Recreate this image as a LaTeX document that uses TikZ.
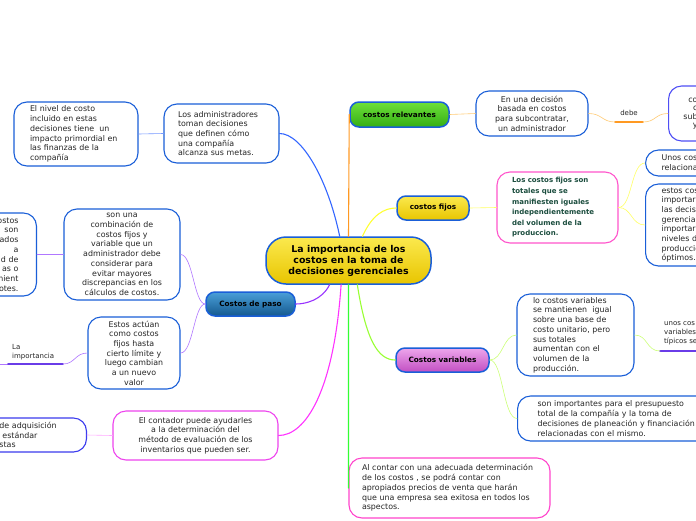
\documentclass[tikz,border=0pt]{standalone}
\usepackage{fontspec}
\setmainfont{DejaVu Sans}
\usepackage{tikz}
\definecolor{azul}{HTML}{1A5FD8}
\definecolor{azulB}{HTML}{3B3BEE}
\definecolor{azulC}{HTML}{4F4FF5}
\definecolor{rosa}{HTML}{FF55CC}
\definecolor{magentaB}{HTML}{EE44EE}
\definecolor{rosaB}{HTML}{FF44CC}
\definecolor{tinta}{HTML}{262626}
\definecolor{verdeT}{HTML}{1B4D3E}
\definecolor{amarilloA}{HTML}{FBE94E}
\definecolor{amarilloB}{HTML}{E8C500}
\definecolor{verdeA}{HTML}{6EE03A}
\definecolor{verdeB}{HTML}{34AE14}
\definecolor{moradoA}{HTML}{EDA6EC}
\definecolor{moradoB}{HTML}{C24FC2}
\definecolor{celesteA}{HTML}{4A9FD8}
\definecolor{celesteB}{HTML}{14598F}
\definecolor{azulR}{HTML}{3366FF}
\definecolor{naranja}{HTML}{FF9922}
\definecolor{amarilloR}{HTML}{FFFF33}
\definecolor{moradoR}{HTML}{9933FF}
\definecolor{magentaR}{HTML}{FF33FF}
\definecolor{verdeR}{HTML}{33FF33}
\definecolor{limaR}{HTML}{99FF33}
\definecolor{azulS}{HTML}{7799FF}
\definecolor{moradoS}{HTML}{B077FF}
\definecolor{rosaS}{HTML}{FFAAFF}
\definecolor{naranjaS}{HTML}{FFCC77}
\definecolor{amarilloS}{HTML}{FFFF66}
\definecolor{limaS}{HTML}{CCFF77}
\definecolor{lineamorado}{HTML}{6A3CE8}

\begin{document}
\begin{tikzpicture}[x=1pt,y=-1pt,line cap=round,
  cuadro/.style={draw=azul,line width=1.1pt,rounded corners=13pt,fill=white,text=tinta,font=\fontsize{7.9}{9.7}\selectfont,inner sep=3pt},
  tema/.style={draw=azul,line width=1.5pt,rounded corners=9pt,font=\bfseries\fontsize{7.3}{9}\selectfont,inner sep=2pt},
  etiq/.style={text=tinta,font=\fontsize{7}{9}\selectfont,inner sep=1pt},
  rama/.style={line width=1.1pt},
  sub/.style={line width=0.6pt}]
\useasboundingbox (0,0) rectangle (696,520);
\fill[white] (0,0) rectangle (696,520);

\node[tema,top color=amarilloA,bottom color=amarilloB,rounded corners=20pt,minimum width=165pt,minimum height=47pt,font=\bfseries\fontsize{9.4}{11}\selectfont,align=center] (centro) at (348.5,260.5) {La importancia de los\\costos en la toma de\\decisiones gerenciales};
\node[tema,top color=verdeA,bottom color=verdeB,minimum width=99pt,minimum height=25pt] (relevantes) at (399.5,114.5) {costos relevantes};
\node[tema,top color=amarilloA,bottom color=amarilloB,minimum width=72pt,minimum height=24pt] (fijos) at (433,208) {costos fijos};
\node[tema,top color=moradoA,bottom color=moradoB,minimum width=93pt,minimum height=24pt] (variables) at (442.5,360) {Costos variables};
\node[tema,top color=celesteA,bottom color=celesteB,minimum width=89pt,minimum height=24pt] (paso) at (250.5,304) {Costos de paso};

\node[cuadro,minimum width=115pt,minimum height=59pt,text width=87pt,align=left] (admin) at (221.5,133.5) {Los administradores\\toman decisiones\\que definen cómo\\una compañía\\alcanza sus metas.};
\node[cuadro,minimum width=124pt,minimum height=64pt,text width=92pt,align=left] (nivel) at (76,134) {El nivel de costo\\incluido en estas\\decisiones tiene\ \ un\\impacto primordial en\\las finanzas de la\\compañía};
\node[cuadro,minimum width=116pt,minimum height=91pt,inner ysep=1pt,align=center] (combinacion) at (122,254.5) {son una\\combinación de\\costos fijos y\\variable que un\\administrador debe\\considerar para\\evitar mayores\\discrepancias en los\\cálculos de costos.};
\node[cuadro,anchor=east,inner xsep=18pt,text width=24pt,align=right,minimum height=83pt] (costosL) at (37,254.5) {ostos\\son\\ados\\a\hspace*{12pt}\\d de\\as o\\nient\\otes.};
\node[cuadro,minimum width=92pt,minimum height=72pt,align=center] (actuan) at (134,353) {Estos actúan\\como costos\\fijos hasta\\cierto límite y\\luego cambian\\a un nuevo\\valor};
\node[cuadro,draw=magentaB,minimum width=165pt,minimum height=49pt,align=center] (contador) at (195.5,435.5) {El contador puede ayudarles\\a la determinación del\\método de evaluación de los\\inventarios que pueden ser.};
\node[cuadro,draw=azulB,anchor=east,inner xsep=27pt,text width=60pt,align=left,minimum height=34pt] (adquisicion) at (87,435) {de adquisición\\\hspace*{3pt}estándar\\stas};

\node[cuadro,minimum width=112pt,minimum height=45pt,align=center] (decision) at (532,113.5) {En una decisión\\basada en costos\\para subcontratar,\\un administrador};
\node[cuadro,draw=azulC,anchor=west,inner xsep=12pt,text width=17pt,align=right,minimum height=55pt,font=\fontsize{7.9}{8.4}\selectfont] (subcontratar) at (668,113.5) {co\\c\\sub\\y};
\node[cuadro,draw=rosa,minimum width=121pt,minimum height=71pt,text width=91pt,align=left,text=verdeT,font=\bfseries\fontsize{7}{10.6}\selectfont] (fijosdef) at (557.5,207.5) {Los costos fijos son\\totales que se\\manifiesten iguales\\independientemente\\del volumen de la\\produccion.};
\node[cuadro,anchor=west,inner xsep=16pt,text width=60pt,align=left,minimum height=26pt] (unos) at (645,163) {Unos cos\\relaciona};
\node[cuadro,anchor=west,inner xsep=16pt,text width=60pt,align=left,minimum height=82pt] (estos) at (645,225) {estos cos\\importar\\las decis\\gerencia\\importar\\niveles d\\produccio\\óptimos.};
\node[cuadro,minimum width=117pt,minimum height=82pt,text width=85pt,align=left] (mantienen) at (575.5,335) {lo costos variables\\se mantienen\ \ igual\\sobre una base de\\costo unitario, pero\\sus totales\\aumentan con el\\volumen de la\\producción.};
\node[cuadro,anchor=west,inner xsep=20pt,text width=200pt,align=left,minimum height=45pt] (presupuesto) at (517,418.5) {son importantes para el presupuesto\\total de la compañía y la toma de\\decisiones de planeación y financiación\\relacionadas con el mismo.};
\node[cuadro,draw=rosaB,minimum width=201pt,minimum height=60pt,text width=175pt,align=left] (exito) at (449.5,488) {Al contar con una adecuada determinación\\de los costos , se podrá contar con\\apropiados precios de venta que harán\\que una empresa sea exitosa en todos los\\aspectos.};

\node[etiq,align=left,anchor=west] (importancia) at (11,352.5) {La\\importancia};
\node[etiq] (debe) at (629,113) {debe};
\node[etiq,align=left,anchor=west] (tipicos) at (663,333) {unos cos\\variables\\típicos se};
\coordinate (impC) at (-5,364); \coordinate (impA) at (8,364); \coordinate (impB) at (63,364);
\coordinate (debeA) at (615,122); \coordinate (debeB) at (643,122);
\coordinate (tipA) at (660,351); \coordinate (tipB) at (702,351);
\draw[sub,moradoS] (impC) -- (impA);
\draw[line width=1.8pt,lineamorado] (impA) -- (impB);
\draw[line width=1.6pt,naranja] (debeA) -- (debeB);
\draw[line width=1.8pt,lineamorado] (tipA) -- (tipB);

\draw[rama,azulR] (centro.110) .. controls (328,180) and (302,133.5) .. (admin.east);
\draw[rama,naranja] (centro.north) -- (relevantes.west);
\draw[rama,amarilloR] (centro.60) .. controls (372,215) and (384,208) .. (fijos.west);
\draw[rama,moradoR] (centro.-128) .. controls (322,300) and (306,304) .. (paso.east);
\draw[rama,magentaR] (centro.-107) .. controls (334,390) and (306,435.5) .. (contador.east);
\draw[rama,verdeR] (centro.south) -- (exito.west);
\draw[rama,limaR] (centro.-70) .. controls (366,340) and (378,360) .. (variables.west);

\draw[sub,azulS] (admin.west) -- (nivel.east);
\draw[sub,moradoS] (paso.west) .. controls (194,304) and (193,254.5) .. (combinacion.east);
\draw[sub,moradoS] (paso.west) .. controls (194,304) and (193,353) .. (actuan.east);
\draw[sub,moradoS] (combinacion.west) -- (costosL.east);
\draw[sub,moradoS] (actuan.west) .. controls (75,353) and (75,364) .. (impB);
\draw[sub,rosaS] (adquisicion.east) -- (contador.west);
\draw[sub,naranjaS] (relevantes.east) -- (decision.west);
\draw[sub,naranjaS] (decision.east) .. controls (602,113.5) and (602,122) .. (debeA);
\draw[sub,naranjaS] (debeB) .. controls (656,122) and (655,113.5) .. (subcontratar.west);
\draw[sub,amarilloS] (fijos.east) -- (fijosdef.west);
\draw[sub,amarilloS] (fijosdef.east) .. controls (632,207.5) and (631,163) .. (unos.west);
\draw[sub,amarilloS] (fijosdef.east) .. controls (632,207.5) and (631,225) .. (estos.west);
\draw[sub,limaS] (variables.east) .. controls (503,360) and (503,335) .. (mantienen.west);
\draw[sub,limaS] (variables.east) .. controls (503,360) and (503,418.5) .. (presupuesto.west);
\draw[sub,limaS] (mantienen.east) .. controls (648,335) and (646,351) .. (tipA);
\end{tikzpicture}
\end{document}
